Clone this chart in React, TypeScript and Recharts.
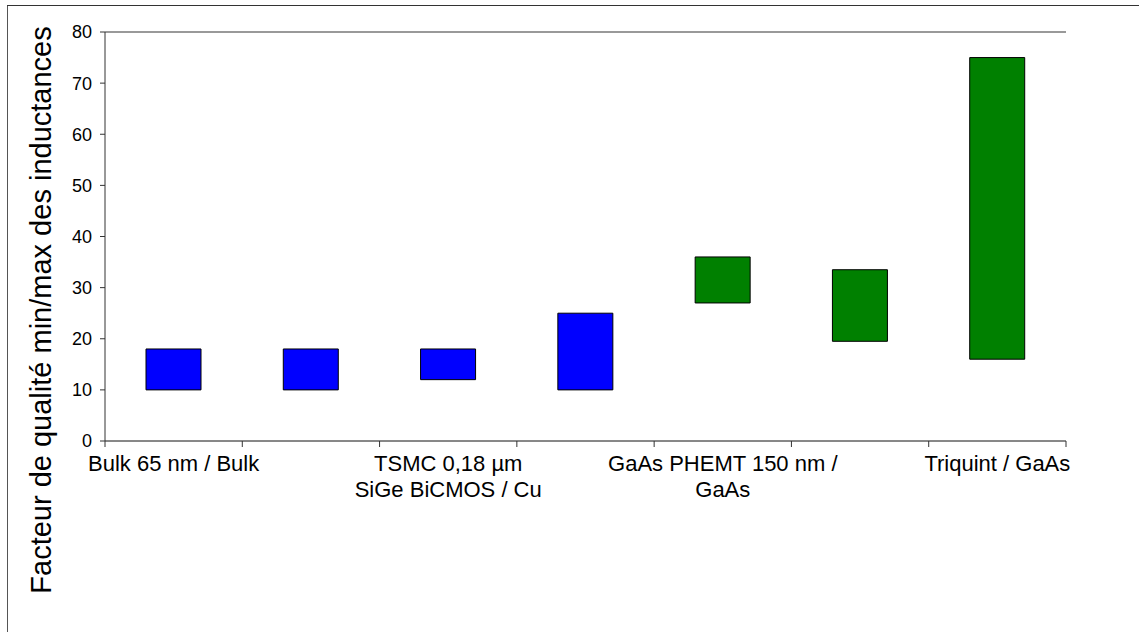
import React from "react";
import {
  BarChart,
  Bar,
  XAxis,
  YAxis,
  CartesianGrid,
  ReferenceLine,
  Cell,
} from "recharts";

// labels of the in-between categories are not printed in the source chart
const categories = [
  "Bulk 65 nm / Bulk",
  "",
  "TSMC 0,18 µm\nSiGe BiCMOS / Cu",
  "",
  "GaAs PHEMT 150 nm /\nGaAs",
  "",
  "Triquint / GaAs",
];
const qMin = [10, 10, 12, 10, 27, 19.5, 16];
const qMax = [18, 18, 18, 25, 36, 33.5, 75];
const substrate = ["Si", "Si", "Si", "Si", "GaAs", "GaAs", "GaAs"];
const yTicks = [0, 10, 20, 30, 40, 50, 60, 70, 80];

const COLORS: Record<string, string> = { Si: "#0000FF", GaAs: "#008000" };
const FONT = "'Liberation Sans', Arial, sans-serif";

const data = categories.map((name, i) => ({
  name,
  range: [qMin[i], qMax[i]],
  substrate: substrate[i],
}));

function CategoryTick(props: any) {
  const { x, y, payload, index } = props;
  const half = payload?.offset || 961 / 7 / 2;
  const lines = String(payload.value).split("\n");
  return (
    <g>
      <line x1={x - half} x2={x - half} y1={y} y2={y + 6} stroke="#333" />
      {index === categories.length - 1 && (
        <line x1={x + half} x2={x + half} y1={y} y2={y + 6} stroke="#333" />
      )}
      {lines.map((l, i) => (
        <text
          key={i}
          x={x}
          y={y + 30 + i * 26}
          textAnchor="middle"
          fontSize={22}
          fontFamily={FONT}
          fill="#000"
        >
          {l}
        </text>
      ))}
    </g>
  );
}

export default function App() {
  return (
    <div
      style={{
        position: "absolute",
        left: 0,
        top: 0,
        width: 1139,
        height: 632,
        background: "#fff",
      }}
    >
      <svg
        width={1139}
        height={632}
        style={{ position: "absolute", left: 0, top: 0 }}
      >
        <line x1={7.5} x2={7.5} y1={5} y2={632} stroke="#555" />
        <line x1={7} x2={1139} y1={5.5} y2={5.5} stroke="#333" />
        <text
          transform="translate(51,310) rotate(-90)"
          textAnchor="middle"
          fontSize={29}
          fontFamily={FONT}
          fill="#000"
        >
          Facteur de qualité min/max des inductances
        </text>
      </svg>
      <div style={{ position: "absolute", left: 0, top: 0 }}>
        <BarChart
          width={1139}
          height={632}
          data={data}
          margin={{ top: 32, right: 73, bottom: 131, left: 65 }}
          barSize={55}
        >
          <CartesianGrid
            horizontal
            vertical={false}
            stroke="#333"
            strokeWidth={1}
          />
          <XAxis
            dataKey="name"
            height={60}
            interval={0}
            tickSize={0}
            tickMargin={0}
            tickLine={false}
            axisLine={{ stroke: "#777" }}
            tick={<CategoryTick />}
          />
          <YAxis
            yAxisId="left"
            width={40}
            domain={[0, 80]}
            ticks={yTicks}
            interval={0}
            tickSize={5}
            tickMargin={8}
            axisLine={{ stroke: "#333" }}
            tickLine={{ stroke: "#333" }}
            tick={{ fontSize: 18, fill: "#000", fontFamily: FONT }}
          />
          <YAxis
            yAxisId="right"
            orientation="right"
            width={0}
            domain={[0, 80]}
            tick={false}
            tickLine={false}
            axisLine={{ stroke: "#999" }}
          />
          <ReferenceLine yAxisId="left" y={80} stroke="#999" />
          <Bar
            yAxisId="left"
            dataKey="range"
            stroke="#000"
            strokeWidth={1}
            isAnimationActive={false}
          >
            {data.map((d, i) => (
              <Cell key={i} fill={COLORS[d.substrate]} />
            ))}
          </Bar>
        </BarChart>
      </div>
    </div>
  );
}
